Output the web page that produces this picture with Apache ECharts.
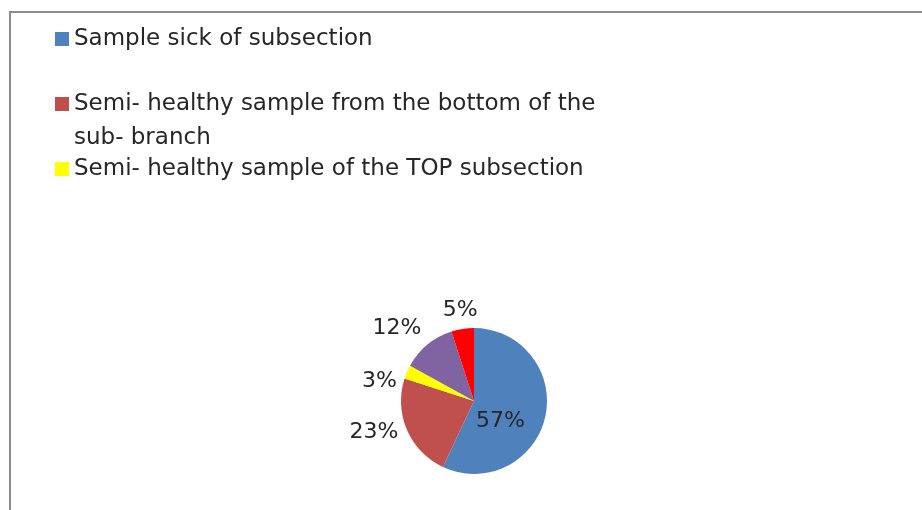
<!DOCTYPE html>
<html>
<head>
<meta charset="utf-8">
<script src="https://cdn.jsdelivr.net/npm/echarts@6/dist/echarts.min.js"></script>
<style>
html,body{margin:0;padding:0;background:#fff;}
#chart{width:922px;height:510px;}
</style>
</head>
<body>
<div id="chart"></div>
<script>
// ---- data ----
const categories = [
  'Sample sick of subsection',
  'Semi- healthy sample from the bottom of the sub- branch',
  'Semi- healthy sample of the TOP subsection',
  'Sample 4',
  'Sample 5'
];
const values = [57, 23, 3, 12, 5];
const colors = ['#4F81BD', '#C0504D', '#FFFF00', '#8064A2', '#FF0000'];

// per-slice label styling (placement tuning only)
const labelStyles = [
  { position: 'inside', offset: [-12, 12] },
  { position: 'outside', len: 5, len2: 0, dist: 4 },
  { position: 'outside', len: 0, len2: 5, dist: 5, offset: [0, 9] },
  { position: 'outside', len: 22, len2: 0, dist: -8 },
  { position: 'outside', len: 19, len2: 0, dist: -18 }
];

const FONT = 'DejaVu Sans';
const TXT = '#262626';

const pieData = categories.map((name, i) => {
  const ls = labelStyles[i];
  const item = {
    name: name,
    value: values[i],
    itemStyle: { color: colors[i] },
    label: { position: ls.position }
  };
  if (ls.offset) item.label.offset = ls.offset;
  if (ls.position === 'outside') {
    item.label.distanceToLabelLine = ls.dist;
    item.labelLine = { show: false, length: ls.len, length2: ls.len2 };
  }
  return item;
});

function legendFor(idx, top, extra) {
  const base = {
    orient: 'vertical',
    left: 55,
    top: top,
    padding: 0,
    itemWidth: 14,
    itemHeight: 14,
    icon: 'rect',
    selectedMode: false,
    data: [categories[idx]],
    textStyle: { fontFamily: FONT, fontSize: 23, color: TXT, lineHeight: 26 }
  };
  return Object.assign(base, extra || {});
}

const chart = echarts.init(document.getElementById('chart'), null, { renderer: 'canvas' });
chart.setOption({
  backgroundColor: '#fff',
  animation: false,
  graphic: [{
    type: 'rect',
    silent: true,
    shape: { x: 10, y: 12, width: 1000, height: 600 },
    style: { fill: null, stroke: '#8c8c8c', lineWidth: 2 }
  }],
  legend: [
    legendFor(0, 26),
    legendFor(1, 53, {
      // blank first line so the first visible line sits beside the marker
      formatter: function (name) { return ' \n' + name.replace(' sub- branch', '\nsub- branch'); },
      textStyle: { fontFamily: FONT, fontSize: 23, color: TXT, lineHeight: 34 }
    }),
    legendFor(2, 156)
  ],
  series: [{
    type: 'pie',
    center: [474, 401],
    radius: 73,
    startAngle: 90,
    clockwise: true,
    avoidLabelOverlap: false,
    data: pieData,
    itemStyle: { borderWidth: 0 },
    label: {
      show: true,
      formatter: function (p) { return p.value + '%'; },
      fontFamily: FONT,
      fontSize: 22,
      color: TXT
    },
    labelLine: { show: false },
    emphasis: { disabled: true }
  }]
});
</script>
</body>
</html>
